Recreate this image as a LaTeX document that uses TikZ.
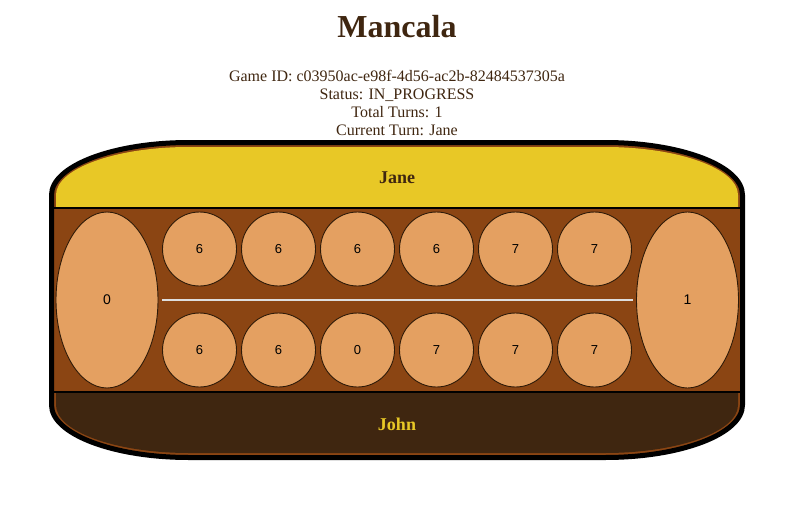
\documentclass[tikz,border=0pt]{standalone}
\usepackage{fontspec}
\setmainfont{Liberation Serif}
\newfontfamily\pitfont{Liberation Sans}
\usetikzlibrary{shapes.geometric}

% board outline, #1 = inset from the rim's centre line
\def\boardshape#1{({51.5+#1},195)
  arc[start angle=180,end angle=270,x radius={137.5-#1},y radius={52.5-#1}] -- (605,{142.5+#1})
  arc[start angle=270,end angle=360,x radius={137.5-#1},y radius={52.5-#1}] -- ({742.5-#1},405)
  arc[start angle=0,end angle=90,x radius={137.5-#1},y radius={52.5-#1}] -- (189,{457.5-#1})
  arc[start angle=90,end angle=180,x radius={137.5-#1},y radius={52.5-#1}] -- cycle}
\definecolor{board wood}{HTML}{8B4513}
\definecolor{jane gold}{HTML}{E8C826}
\definecolor{john dark}{HTML}{3F2610}
\definecolor{pit sand}{HTML}{E4A061}
\definecolor{pit edge}{HTML}{2E1A08}
\definecolor{ink}{HTML}{3F2610}
\tikzset{
  pit/.style={circle, fill=pit sand, draw=pit edge, line width=0.9pt, minimum size=74pt, inner sep=0pt, font=\pitfont\fontsize{13}{15}\selectfont},
  store/.style={ellipse, fill=pit sand, draw=pit edge, line width=0.9pt, minimum width=102pt, minimum height=176pt, inner sep=0pt, font=\pitfont\fontsize{14}{16}\selectfont}
  }
\tikzstyle{rim} = [draw=black, line width=5pt]
\tikzstyle{rowline} = [draw=black, line width=2pt]
\tikzstyle{divider} = [draw=black!13, line width=2pt, shorten <=3.5pt, shorten >=3.5pt]
\tikzstyle{info} = [anchor=base, text=ink, inner sep=0pt, font=\fontsize{16}{18}\selectfont]
\tikzstyle{player} = [anchor=base, inner sep=0pt, font=\fontsize{18}{20}\selectfont\bfseries]

\begin{document}
\begin{tikzpicture}[x=1pt, y=-1pt]
   \useasboundingbox (0,0) rectangle (804,506);

   \node[anchor=base, text=ink, inner sep=0pt, font=\fontsize{32}{38}\selectfont\bfseries] (heading) at (397,37) {Mancala};
   \node[info] (gameid) at (397,81) {Game ID: c03950ac-e98f-4d56-ac2b-82484537305a};
   \node[info] (status) at (397,99) {Status: IN\_PROGRESS};
   \node[info] (turns) at (397,117) {Total Turns: 1};
   \node[info] (current) at (397,135) {Current Turn: Jane};

   \fill[board wood] \boardshape{0};
   \begin{scope}
        \clip \boardshape{4.5};
        \fill[jane gold] (40,130) rectangle (760,208);
        \fill[john dark] (40,392) rectangle (760,470);
    \end{scope}
    \path[rowline] (54,208) -- (740,208);
    \path[rowline] (54,392) -- (740,392);
    \path[rim] \boardshape{0};

    \node[player, text=ink] (jane) at (397,183) {Jane};
    \node[player, text=jane gold] (john) at (397,430.5) {John};

    % stores at the ends
    \node[store] (storeL) at (107,300) {0};
    \node[store] (storeR) at (687.5,300) {1};

    % Jane's row
    \node[pit] (t1) at (199.5,249) {6};
    \node[pit] (t2) at (278.5,249) {6};
    \node[pit] (t3) at (357.5,249) {6};
    \node[pit] (t4) at (436.5,249) {6};
    \node[pit] (t5) at (515.5,249) {7};
    \node[pit] (t6) at (594.5,249) {7};

    % John's row
    \node[pit] (b1) at (199.5,350) {6};
    \node[pit] (b2) at (278.5,350) {6};
    \node[pit] (b3) at (357.5,350) {0};
    \node[pit] (b4) at (436.5,350) {7};
    \node[pit] (b5) at (515.5,350) {7};
    \node[pit] (b6) at (594.5,350) {7};

    \path[divider] (storeL) -- (storeR);
\end{tikzpicture}
\end{document}
